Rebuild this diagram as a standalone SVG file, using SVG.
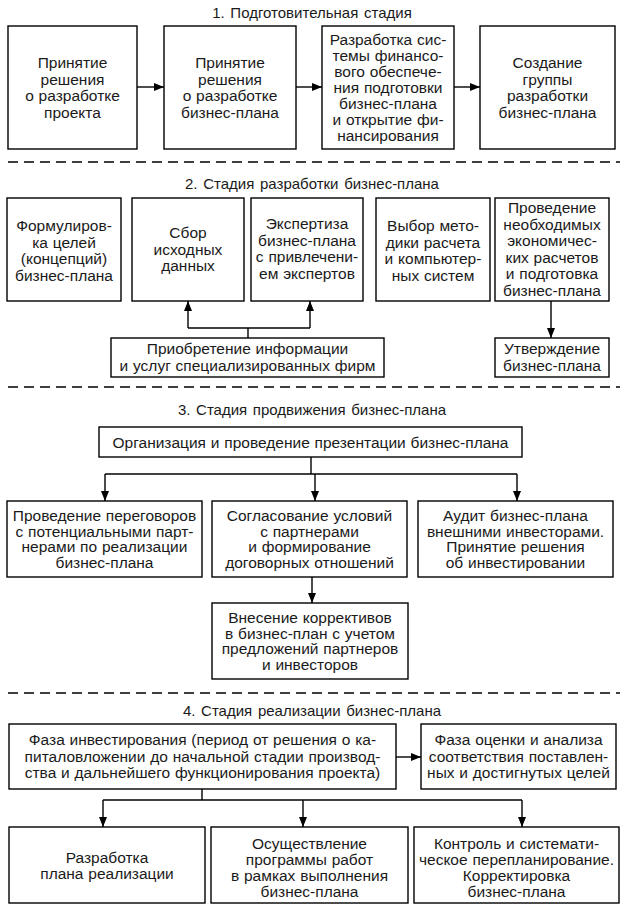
<svg xmlns="http://www.w3.org/2000/svg" width="625" height="913" viewBox="0 0 625 913">
<style>
  .box { fill: #fff; stroke: #000; stroke-width: 1.4; }
  .t { font-family: "Liberation Sans", Arial, sans-serif; font-size: 15.5px; word-spacing: 0.5px; fill: #1a1a1a; text-anchor: middle; }
  .h { font-family: "Liberation Sans", Arial, sans-serif; font-size: 15px; word-spacing: 1.5px; fill: #1a1a1a; text-anchor: middle; }
  .ln { fill: none; stroke: #000; stroke-width: 1.4; }
  .ar { fill: none; stroke: #000; stroke-width: 1.4; marker-end: url(#arr); }
  .dash { fill: none; stroke: #000; stroke-width: 1.4; stroke-dasharray: 10 6; }
</style>
<defs>
  <marker id="arr" viewBox="0 0 10 8" refX="10" refY="4" markerWidth="10" markerHeight="8" markerUnits="userSpaceOnUse" orient="auto">
    <path d="M0,0 L10,4 L0,8 Z" fill="#000"/>
  </marker>
</defs>

<g id="titles">
  <text class="h" x="312" y="18">1. Подготовительная стадия</text>
  <text class="h" x="312" y="189">2. Стадия разработки бизнес-плана</text>
  <text class="h" x="312" y="415">3. Стадия продвижения бизнес-плана</text>
  <text class="h" x="312" y="716">4. Стадия реализации бизнес-плана</text>
</g>

<g id="separators">
  <line class="dash" x1="8" y1="162" x2="620" y2="162"/>
  <line class="dash" x1="8" y1="387" x2="620" y2="387"/>
  <line class="dash" x1="8" y1="693" x2="620" y2="693"/>
</g>

<g id="connectors">
  <line class="ar" x1="137" y1="87" x2="164" y2="87"/>
  <line class="ar" x1="296" y1="87" x2="322" y2="87"/>
  <line class="ar" x1="454" y1="87" x2="480" y2="87"/>

  <line class="ln" x1="248" y1="338" x2="248" y2="328"/>
  <line class="ln" x1="188" y1="328" x2="310" y2="328"/>
  <line class="ar" x1="188" y1="328" x2="188" y2="301"/>
  <line class="ar" x1="310" y1="328" x2="310" y2="301"/>
  <line class="ar" x1="551" y1="301" x2="551" y2="338"/>

  <line class="ln" x1="311" y1="457" x2="311" y2="474"/>
  <line class="ln" x1="105" y1="474" x2="517" y2="474"/>
  <line class="ar" x1="105" y1="474" x2="105" y2="501"/>
  <line class="ar" x1="315" y1="474" x2="315" y2="501"/>
  <line class="ar" x1="517" y1="474" x2="517" y2="501"/>
  <line class="ar" x1="312" y1="577" x2="312" y2="603"/>

  <line class="ar" x1="396" y1="757" x2="421" y2="757"/>
  <line class="ln" x1="202" y1="789" x2="202" y2="800"/>
  <line class="ln" x1="103" y1="800" x2="522" y2="800"/>
  <line class="ar" x1="103" y1="800" x2="103" y2="827"/>
  <line class="ar" x1="303" y1="800" x2="303" y2="827"/>
  <line class="ar" x1="522" y1="800" x2="522" y2="827"/>
</g>

<g id="s1-n1">
  <rect class="box" x="8" y="26" width="129" height="123"/>
  <text class="t" x="72.5" y="68">Принятие</text>
  <text class="t" x="72.5" y="84.5">решения</text>
  <text class="t" x="72.5" y="101">о разработке</text>
  <text class="t" x="72.5" y="117.5">проекта</text>
</g>
<g id="s1-n2">
  <rect class="box" x="164" y="26" width="132" height="123"/>
  <text class="t" x="230" y="68">Принятие</text>
  <text class="t" x="230" y="84.5">решения</text>
  <text class="t" x="230" y="101">о разработке</text>
  <text class="t" x="230" y="117.5">бизнес-плана</text>
</g>
<g id="s1-n3">
  <rect class="box" x="322" y="26" width="132" height="123"/>
  <text class="t" x="388" y="44.5">Разработка сис-</text>
  <text class="t" x="388" y="60.5">темы финансо-</text>
  <text class="t" x="388" y="76.5">вого обеспече-</text>
  <text class="t" x="388" y="92.5">ния подготовки</text>
  <text class="t" x="388" y="108.5">бизнес-плана</text>
  <text class="t" x="388" y="124.5">и открытие фи-</text>
  <text class="t" x="388" y="140.5">нансирования</text>
</g>
<g id="s1-n4">
  <rect class="box" x="480" y="26" width="135" height="123"/>
  <text class="t" x="547.5" y="68">Создание</text>
  <text class="t" x="547.5" y="84.5">группы</text>
  <text class="t" x="547.5" y="101">разработки</text>
  <text class="t" x="547.5" y="117.5">бизнес-плана</text>
</g>

<g id="s2-n1">
  <rect class="box" x="7" y="198" width="114" height="103"/>
  <text class="t" x="64" y="231">Формулиров-</text>
  <text class="t" x="64" y="247.5">ка целей</text>
  <text class="t" x="64" y="264">(концепций)</text>
  <text class="t" x="64" y="280.5">бизнес-плана</text>
</g>
<g id="s2-n2">
  <rect class="box" x="132" y="198" width="112" height="103"/>
  <text class="t" x="188" y="238">Сбор</text>
  <text class="t" x="188" y="254.5">исходных</text>
  <text class="t" x="188" y="271">данных</text>
</g>
<g id="s2-n3">
  <rect class="box" x="251" y="198" width="112" height="103"/>
  <text class="t" x="307" y="229">Экспертиза</text>
  <text class="t" x="307" y="245.5">бизнес-плана</text>
  <text class="t" x="307" y="262">с привлечени-</text>
  <text class="t" x="307" y="278.5">ем экспертов</text>
</g>
<g id="s2-n4">
  <rect class="box" x="376" y="198" width="114" height="103"/>
  <text class="t" x="433" y="231">Выбор мето-</text>
  <text class="t" x="433" y="247.5">дики расчета</text>
  <text class="t" x="433" y="264">и компьютер-</text>
  <text class="t" x="433" y="280.5">ных систем</text>
</g>
<g id="s2-n5">
  <rect class="box" x="495" y="198" width="114" height="103"/>
  <text class="t" x="552" y="213.3">Проведение</text>
  <text class="t" x="552" y="229.8">необходимых</text>
  <text class="t" x="552" y="246.3">экономичес-</text>
  <text class="t" x="552" y="262.8">ких расчетов</text>
  <text class="t" x="552" y="279.3">и подготовка</text>
  <text class="t" x="552" y="295.8">бизнес-плана</text>
</g>
<g id="s2-n6">
  <rect class="box" x="111" y="338" width="273" height="39"/>
  <text class="t" x="247.5" y="354.3">Приобретение информации</text>
  <text class="t" x="247.5" y="370.8">и услуг специализированных фирм</text>
</g>
<g id="s2-n7">
  <rect class="box" x="495" y="338" width="114" height="39"/>
  <text class="t" x="552" y="354.3">Утверждение</text>
  <text class="t" x="552" y="370.8">бизнес-плана</text>
</g>

<g id="s3-n1">
  <rect class="box" x="99" y="427" width="423" height="30"/>
  <text class="t" x="310.5" y="447.5">Организация и проведение презентации бизнес-плана</text>
</g>
<g id="s3-n2">
  <rect class="box" x="7" y="501" width="195" height="76"/>
  <text class="t" x="104.5" y="521">Проведение переговоров</text>
  <text class="t" x="104.5" y="536.5">с потенциальными парт-</text>
  <text class="t" x="104.5" y="552">нерами по реализации</text>
  <text class="t" x="104.5" y="567.5">бизнес-плана</text>
</g>
<g id="s3-n3">
  <rect class="box" x="212" y="501" width="195" height="76"/>
  <text class="t" x="309.5" y="521">Согласование условий</text>
  <text class="t" x="309.5" y="536.5">с партнерами</text>
  <text class="t" x="309.5" y="552">и формирование</text>
  <text class="t" x="309.5" y="567.5">договорных отношений</text>
</g>
<g id="s3-n4">
  <rect class="box" x="418" y="501" width="195" height="76"/>
  <text class="t" x="515.5" y="521">Аудит бизнес-плана</text>
  <text class="t" x="515.5" y="536.5">внешними инвесторами.</text>
  <text class="t" x="515.5" y="552">Принятие решения</text>
  <text class="t" x="515.5" y="567.5">об инвестировании</text>
</g>
<g id="s3-n5">
  <rect class="box" x="212" y="603" width="196" height="76"/>
  <text class="t" x="310" y="623">Внесение коррективов</text>
  <text class="t" x="310" y="638.5">в бизнес-план с учетом</text>
  <text class="t" x="310" y="654">предложений партнеров</text>
  <text class="t" x="310" y="669.5">и инвесторов</text>
</g>

<g id="s4-n1">
  <rect class="box" x="9" y="724" width="387" height="65"/>
  <text class="t" x="202.5" y="745">Фаза инвестирования (период от решения о ка-</text>
  <text class="t" x="202.5" y="761.5">питаловложении до начальной стадии производ-</text>
  <text class="t" x="202.5" y="778">ства и дальнейшего функционирования проекта)</text>
</g>
<g id="s4-n2">
  <rect class="box" x="421" y="724" width="195" height="65"/>
  <text class="t" x="518.5" y="745">Фаза оценки и анализа</text>
  <text class="t" x="518.5" y="761.5">соответствия поставлен-</text>
  <text class="t" x="518.5" y="778">ных и достигнутых целей</text>
</g>
<g id="s4-n3">
  <rect class="box" x="9" y="827" width="196" height="76"/>
  <text class="t" x="107" y="863">Разработка</text>
  <text class="t" x="107" y="879">плана реализации</text>
</g>
<g id="s4-n4">
  <rect class="box" x="211" y="827" width="197" height="76"/>
  <text class="t" x="309.5" y="849">Осуществление</text>
  <text class="t" x="309.5" y="865">программы работ</text>
  <text class="t" x="309.5" y="881">в рамках выполнения</text>
  <text class="t" x="309.5" y="897">бизнес-плана</text>
</g>
<g id="s4-n5">
  <rect class="box" x="414" y="827" width="205" height="76"/>
  <text class="t" x="516.5" y="849">Контроль и системати-</text>
  <text class="t" x="516.5" y="865">ческое перепланирование.</text>
  <text class="t" x="516.5" y="881">Корректировка</text>
  <text class="t" x="516.5" y="897">бизнес-плана</text>
</g>
</svg>
